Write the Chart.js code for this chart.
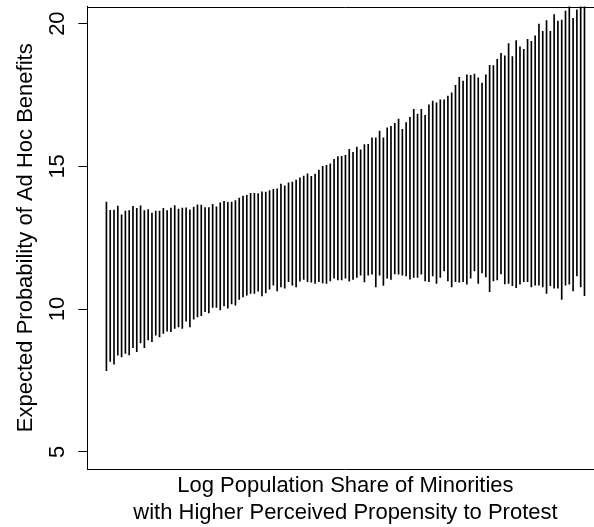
<!DOCTYPE html>
<html><head><meta charset="utf-8">
<script src="https://cdn.jsdelivr.net/npm/chart.js@4.4.1/dist/chart.umd.min.js"></script>
<style>
html,body{margin:0;padding:0;background:#fff;overflow:hidden;width:594px;height:527px}
#wrap{width:594px;height:527px;overflow:hidden;position:relative;background:#fff}
canvas{display:block}
</style></head>
<body><div id="wrap"><canvas id="c" width="612" height="527" style="width:612px;height:527px"></canvas></div>
<script>
// Upper and lower ends of each vertical segment (left to right)
const highs = [
 13.75,13.46,13.47,13.61,13.30,13.43,13.45,13.60,13.53,13.62,13.45,13.49,13.36,13.43,13.43,13.53,13.45,13.54,13.63,13.50,
 13.54,13.55,13.48,13.57,13.65,13.64,13.56,13.56,13.67,13.58,13.72,13.78,13.74,13.75,13.80,13.89,13.96,13.99,14.06,14.06,
 14.05,
 14.11,14.10,14.15,14.20,14.21,14.38,14.32,14.42,14.45,14.52,14.60,14.66,14.74,14.65,14.73,14.87,15.00,15.04,15.09,15.25,
 15.34,15.35,15.39,15.60,15.49,15.68,15.58,15.76,15.77,16.00,16.00,16.24,16.00,16.35,16.40,16.51,16.66,16.30,16.53,16.72,
 17.00,16.83,
 17.00,16.79,17.16,17.29,17.23,17.33,17.33,17.46,17.58,17.84,18.12,17.99,18.21,18.19,18.23,18.10,17.92,18.21,18.54,18.53,
 18.75,18.96,18.87,19.30,18.85,19.41,19.19,19.10,19.45,19.38,19.57,19.98,19.73,20.11,19.73,20.32,20.09,20.12,20.44,20.80,
 20.19,20.48,20.90,21.00
];
const lows = [
 7.84,8.17,8.07,8.39,8.33,8.45,8.40,8.65,8.51,8.82,8.65,8.92,8.86,9.09,9.03,9.15,9.23,9.21,9.32,9.38,
 9.32,9.58,9.38,9.65,9.73,9.77,9.91,9.87,10.06,10.06,9.97,10.11,10.03,10.18,10.14,10.34,10.43,10.49,10.55,10.55,
 10.63,
 10.46,10.57,10.70,10.84,10.64,10.78,10.73,10.96,10.84,10.78,10.98,11.04,10.96,10.94,10.90,10.96,10.92,10.90,10.99,11.08,
 11.02,11.02,11.08,10.98,11.04,11.11,11.19,10.95,11.19,11.22,10.78,11.19,10.83,11.08,11.04,11.23,11.22,11.19,11.16,11.05,
 11.11,11.11,
 11.22,10.99,10.96,11.16,10.90,11.11,11.34,10.99,10.78,10.96,10.94,10.96,10.87,11.08,11.34,10.90,11.27,11.13,10.61,10.99,
 11.02,11.23,10.88,10.90,10.82,10.75,10.87,10.96,10.96,10.78,10.84,10.84,10.78,10.55,10.82,10.73,10.73,10.34,10.84,10.87,
 10.64,11.16,10.78,10.47
];
const yTicks = [5, 10, 15, 20];
const yLim = [5, 20];
const xTitle = ['Log Population Share of Minorities', 'with Higher Perceived Propensity to Protest'];
const yTitle = 'Expected Probability of Ad Hoc Benefits';

const n = highs.length;
const positions = highs.map((_, i) => i + 1);
const xPad = 0.04 * (n - 1);
const yPad = 0.04 * (yLim[1] - yLim[0]);

Chart.defaults.font.family = "'Liberation Sans', Arial, Helvetica, sans-serif";
Chart.defaults.color = '#000';

const segs = positions.map((p, i) => ({x: p, y: [lows[i], highs[i]]}));

const topBorder = {
  id: 'topBorder',
  afterDraw(c) {
    const a = c.chartArea, ctx = c.ctx;
    ctx.save();
    ctx.strokeStyle = '#000';
    ctx.lineWidth = 1;
    ctx.beginPath();
    ctx.moveTo(a.left, Math.round(a.top) + 0.5);
    ctx.lineTo(a.right, Math.round(a.top) + 0.5);
    ctx.stroke();
    ctx.restore();
  }
};

new Chart(document.getElementById('c'), {
  type: 'bar',
  data: {datasets: [{data: segs, backgroundColor: '#000', borderWidth: 0, barThickness: 1, grouped: false}]},
  options: {
    responsive: false, animation: false, devicePixelRatio: 1,
    layout: {padding: {top: 6.5, right: 612 - 603.6, bottom: 0, left: 0}},
    plugins: {legend: {display: false}, tooltip: {enabled: false}},
    scales: {
      x: {
        type: 'linear', min: 1 - xPad, max: n + xPad, offset: false,
        grid: {display: false},
        border: {display: true, color: '#000', width: 1},
        ticks: {display: false},
        title: {display: true, text: xTitle, color: '#000', font: {size: 22, lineHeight: 27 / 22}, padding: {top: 0, bottom: 0.5}},
        afterFit(s) { s.height = 527 - 469; s.paddingLeft = 0; s.paddingRight = 0; }
      },
      y: {
        type: 'linear', min: yLim[0] - yPad, max: yLim[1] + yPad,
        afterBuildTicks(s) { s.ticks = yTicks.map(v => ({value: v})); },
        grid: {drawOnChartArea: false, drawTicks: true, tickLength: 9, color: '#000', lineWidth: 1},
        border: {display: true, color: '#000', width: 1},
        ticks: {minRotation: 90, maxRotation: 90, crossAlign: 'center', padding: 8.5, color: '#000', font: {size: 22}, callback: v => String(v)},
        title: {display: true, text: yTitle, color: '#000', font: {size: 22}, padding: {top: 12.8, bottom: 0}},
        afterFit(s) { s.width = 87.3; s.paddingTop = 0; s.paddingBottom = 0; }
      }
    }
  },
  plugins: [topBorder]
});
</script>
</body></html>
